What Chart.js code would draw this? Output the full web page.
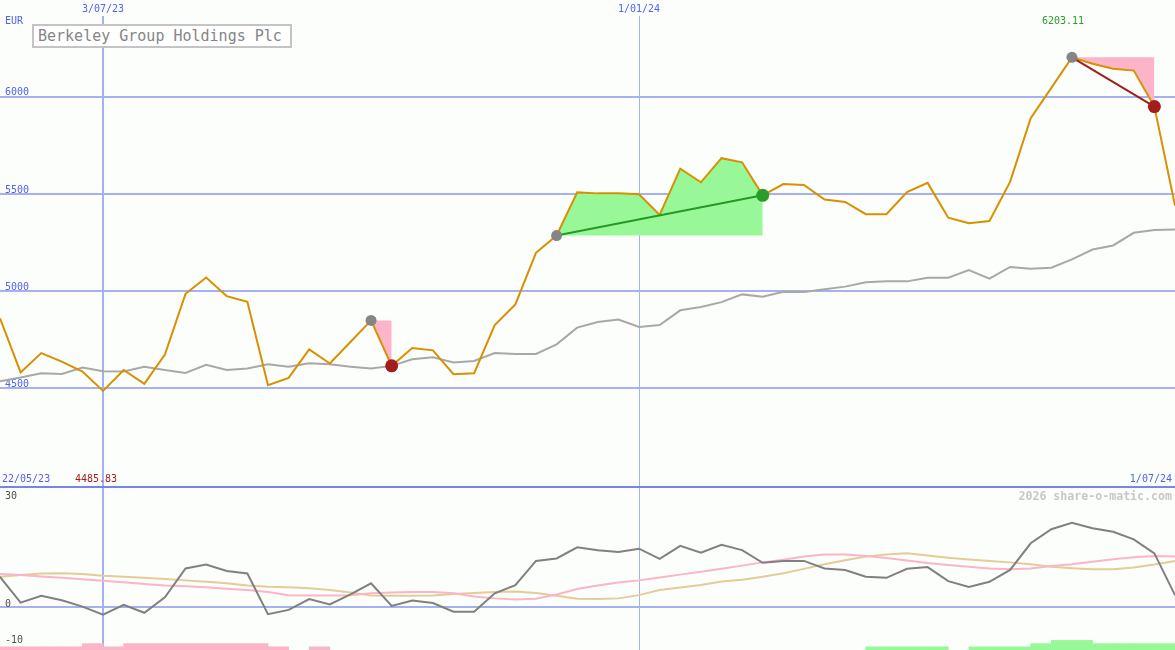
<!DOCTYPE html>
<html>
<head>
<meta charset="utf-8">
<title>Berkeley Group Holdings Plc</title>
<script src="https://cdn.jsdelivr.net/npm/chart.js@4.4.1/dist/chart.umd.min.js"></script>
<style>
  body { margin: 0; background: #fbfefb; }
  #wrap { position: relative; width: 1175px; height: 650px; overflow: hidden; font-family: "DejaVu Sans Mono", monospace; }
  canvas { position: absolute; left: 0; }
  #priceChart { top: 0; }
  #oscChart { top: 488px; }
  #sep { position: absolute; left: 0; top: 486px; width: 1175px; height: 2px; background: #7585ea; }
  .lbl { position: absolute; font-size: 10px; line-height: 12px; white-space: nowrap; color: #5262ec; }
  #title { position: absolute; left: 32px; top: 24px; width: 252px; height: 20px; border: 2px solid #c4c4c4; background: #fff;
           font-size: 15px; line-height: 20px; color: #858585; padding-left: 4px; }
  #credit { position: absolute; right: 3px; top: 489px; font-size: 11.6px; line-height: 14px; font-weight: bold; color: #c8c8c8; }
</style>
</head>
<body>
<div id="wrap">
  <canvas id="priceChart" width="1175" height="486"></canvas>
  <canvas id="oscChart" width="1175" height="162"></canvas>
  <div id="sep"></div>
  <div id="title">Berkeley Group Holdings Plc</div>
  <div class="lbl" style="left:5px; top:15px;">EUR</div>
  <div class="lbl" style="left:1042px; top:15px; color:#2c9c2c;">6203.11</div>
  <div class="lbl" style="left:2px; top:473px;">22/05/23</div>
  <div class="lbl" style="left:75px; top:473px; color:#a41c1c;">4485.83</div>
  <div class="lbl" style="right:3px; top:473px;">1/07/24</div>
  <div id="credit">2026 share-o-matic.com</div>
</div>
<script>
// weekly closes, 29/05/23 .. 1/07/24
const price = [4860, 4581, 4681, 4637, 4586, 4485.83, 4594, 4522, 4673, 4986,
               5070, 4974, 4945, 4515, 4553, 4700, 4627, 4738, 4849, 4615,
               4707, 4695, 4572, 4577, 4825, 4931, 5197, 5286, 5508, 5503,
               5503, 5498, 5392, 5630, 5560, 5684, 5663, 5493, 5551, 5546,
               5471, 5459, 5396, 5396, 5510, 5557, 5378, 5349, 5361, 5562,
               5890, 6046, 6203.11, 6170, 6145, 6135, 5950, 5440];
// moving average (grey)
const average = [4536, 4555, 4577, 4573, 4606, 4587, 4586, 4610, 4594, 4579,
                 4620, 4594, 4601, 4623, 4611, 4628, 4623, 4611, 4601, 4615,
                 4649, 4659, 4632, 4640, 4681, 4676, 4676, 4726, 4812, 4841,
                 4854, 4815, 4825, 4901, 4918, 4943, 4983, 4971, 4997, 4995,
                 5009, 5023, 5045, 5050, 5050, 5069, 5069, 5108, 5064, 5124,
                 5115, 5120, 5163, 5214, 5235, 5300, 5315, 5317];
// lower panel oscillators
const momentum = [8.4, 1.2, 3.1, 1.9, 0.1, -2.1, 0.6, -1.6, 2.7, 10.7,
                  11.8, 10.0, 9.3, -2.0, -0.8, 2.2, 0.7, 3.5, 6.6, 0.3,
                  1.8, 1.1, -1.3, -1.3, 3.8, 6.1, 12.8, 13.5, 16.6, 15.8,
                  15.3, 16.2, 13.4, 17.0, 15.1, 17.3, 15.8, 12.3, 12.8, 12.8,
                  10.7, 10.3, 8.4, 8.1, 10.6, 11.1, 7.2, 5.6, 7.0, 10.3,
                  17.7, 21.6, 23.4, 21.9, 20.9, 18.8, 14.9, 3.3];
const signalPink = [9.2, 8.9, 8.5, 8.1, 7.7, 7.3, 6.9, 6.4, 6.0, 5.8,
                    5.5, 5.1, 4.7, 4.2, 3.3, 3.2, 3.2, 3.3, 3.8, 4.0,
                    4.2, 4.2, 3.8, 2.9, 2.4, 2.1, 2.3, 3.5, 5.0, 6.0,
                    6.8, 7.4, 8.2, 9.0, 9.8, 10.6, 11.5, 12.4, 13.1, 14.0,
                    14.6, 14.6, 14.2, 13.6, 12.9, 12.2, 11.7, 11.2, 10.7, 10.5,
                    10.7, 11.4, 11.9, 12.6, 13.3, 13.8, 14.2, 14.0];
const signalTan = [8.4, 8.9, 9.3, 9.4, 9.2, 8.7, 8.4, 8.1, 7.8, 7.4,
                   7.0, 6.6, 6.0, 5.6, 5.5, 5.2, 4.7, 4.0, 3.2, 3.1,
                   3.1, 3.2, 3.6, 3.9, 4.2, 4.3, 3.9, 3.1, 2.3, 2.2,
                   2.4, 3.3, 4.7, 5.4, 6.1, 7.1, 7.6, 8.4, 9.4, 10.6,
                   11.9, 13.0, 14.0, 14.6, 14.9, 14.3, 13.7, 13.2, 12.8, 12.4,
                   11.9, 11.2, 10.8, 10.5, 10.5, 11.0, 11.8, 12.8];
// weekly bars along the bottom (between week i and i+1)
const barsDown = [1, 1, 1, 1, 2, 1, 2, 2, 2, 2, 2, 2, 2, 1, 0, 1, 0, 0, 0, 0,
                  0, 0, 0, 0, 0, 0, 0, 0, 0, 0, 0, 0, 0, 0, 0, 0, 0, 0, 0, 0,
                  0, 0, 0, 0, 0, 0, 0, 0, 0, 0, 0, 0, 0, 0, 0, 0, 0];
const barsUp = [0, 0, 0, 0, 0, 0, 0, 0, 0, 0, 0, 0, 0, 0, 0, 0, 0, 0, 0, 0,
                0, 0, 0, 0, 0, 0, 0, 0, 0, 0, 0, 0, 0, 0, 0, 0, 0, 0, 0, 0,
                0, 0, 1, 1, 1, 1, 0, 1, 1, 1, 2, 3, 3, 2, 2, 2, 2];

// trade signals: [from week, to week]
const buySignals = [[27, 37]];
const sellSignals = [[18, 19], [52, 56]];

const gridWeeks = [5, 31];
const gridDates = ['3/07/23', '1/01/24'];
const priceTicks = [4500, 5000, 5500, 6000];
const oscTicks = [30, 0, -10];

const GRID = '#a4b2f2';
Chart.defaults.font.family = '"DejaVu Sans Mono", monospace';
Chart.defaults.font.size = 10;

function points(arr, from) {
    return arr.map((v, i) => ({ x: (from || 0) + i, y: v }));
}

function segment(a, b) {
    return points(price.slice(a, b + 1), a);
}

// no extra room round the plot area
function noPadding(s) {
    s.paddingLeft = 0; s.paddingRight = 0; s.paddingTop = 0; s.paddingBottom = 0;
}

function xScale(showLabels) {
    return {
        type: 'linear', position: 'top', min: 0, max: price.length - 1, offset: false,
        afterBuildTicks: s => { s.ticks = gridWeeks.map(v => ({ value: v })); },
        afterFit: s => { s.height = showLabels ? 16 : 0; noPadding(s); },
        grid: { color: GRID, lineWidth: c => (c.index === 0 ? 2 : 1), drawTicks: false, offset: false },
        border: { display: false },
        ticks: { display: showLabels, padding: 1, color: '#5262ec', callback: (v, i) => gridDates[i] }
    };
}

function buildPriceChart() {
    const datasets = [];
    const marker = (pts, colour, r) => ({
        data: pts, showLine: false, pointRadius: r, pointBackgroundColor: colour,
        pointBorderWidth: 0, pointHoverRadius: r
    });
    datasets.push(marker(buySignals.concat(sellSignals).map(s => ({ x: s[0], y: price[s[0]] })), '#858585', 5.5));
    datasets.push(marker(sellSignals.map(s => ({ x: s[1], y: price[s[1]] })), '#a41c1c', 6.5));
    datasets.push(marker(buySignals.map(s => ({ x: s[1], y: price[s[1]] })), '#2a9c2a', 6.5));

    buySignals.forEach(s => datasets.push({
        data: [{ x: s[0], y: price[s[0]] }, { x: s[1], y: price[s[1]] }],
        borderColor: '#249a24', borderWidth: 2, pointRadius: 0
    }));
    sellSignals.slice(1).forEach(s => datasets.push({
        data: [{ x: s[0], y: price[s[0]] }, { x: s[1], y: price[s[1]] }],
        borderColor: '#a41c1c', borderWidth: 2, pointRadius: 0
    }));

    datasets.push({ data: points(price), borderColor: '#d99000', borderWidth: 2, pointRadius: 0 });
    datasets.push({ data: points(average), borderColor: '#a8a8a8', borderWidth: 2, pointRadius: 0 });

    // shaded areas between the close and the entry level
    buySignals.forEach(s => datasets.push({
        data: segment(s[0], s[1]), borderWidth: 0, pointRadius: 0,
        fill: { value: price[s[0]] }, backgroundColor: '#98f898'
    }));
    sellSignals.forEach(s => datasets.push({
        data: segment(s[0], s[1]), borderWidth: 0, pointRadius: 0,
        fill: { value: price[s[0]] }, backgroundColor: '#fbb4c8'
    }));

    new Chart(document.getElementById('priceChart'), {
        type: 'line',
        data: { datasets: datasets },
        options: {
            responsive: false, animation: false, devicePixelRatio: 1,
            layout: { padding: 0, autoPadding: false },
            elements: { line: { tension: 0 } },
            plugins: { legend: { display: false }, tooltip: { enabled: false } },
            scales: {
                x: xScale(true),
                y: {
                    min: 3996.6, max: 6416.1,
                    afterBuildTicks: s => { s.ticks = priceTicks.map(v => ({ value: v })); },
                    afterFit: s => { s.width = 0; noPadding(s); },
                    grid: { color: GRID, lineWidth: 2, drawTicks: false },
                    border: { display: false },
                    ticks: { mirror: true, padding: 5, labelOffset: -4, color: '#5262ec', callback: v => String(v) }
                }
            }
        }
    });
}

function buildOscChart() {
    const bars = (arr, colour) => ({
        type: 'bar', yAxisID: 'yv', grouped: false,
        data: arr.map((v, i) => (v ? { x: i + 0.5, y: v } : null)).filter(p => p),
        backgroundColor: colour, barPercentage: 1, categoryPercentage: 1
    });
    new Chart(document.getElementById('oscChart'), {
        type: 'line',
        data: {
            datasets: [
                { data: points(momentum), borderColor: '#808080', borderWidth: 2, pointRadius: 0 },
                { data: points(signalPink), borderColor: '#fbb4c8', borderWidth: 2, pointRadius: 0 },
                { data: points(signalTan), borderColor: '#e4cc98', borderWidth: 2, pointRadius: 0 },
                bars(barsDown, '#fbb4c8'),
                bars(barsUp, '#98f898')
            ]
        },
        options: {
            responsive: false, animation: false, devicePixelRatio: 1,
            layout: { padding: 0, autoPadding: false },
            elements: { line: { tension: 0 } },
            plugins: { legend: { display: false }, tooltip: { enabled: false } },
            scales: {
                x: xScale(false),
                y: {
                    min: -11.94, max: 33.06,
                    afterBuildTicks: s => { s.ticks = oscTicks.map(v => ({ value: v })); },
                    afterFit: s => { s.width = 0; noPadding(s); },
                    grid: { color: c => (c.tick && c.tick.value === 0 ? GRID : 'rgba(0,0,0,0)'), lineWidth: 2, drawTicks: false },
                    border: { display: false },
                    ticks: { mirror: true, padding: 5, labelOffset: -3, color: '#505050' }
                },
                yv: { display: false, min: 0, max: 50.6 }
            }
        }
    });
}

document.addEventListener('DOMContentLoaded', function () {
    buildPriceChart();
    buildOscChart();
});
</script>
</body>
</html>
